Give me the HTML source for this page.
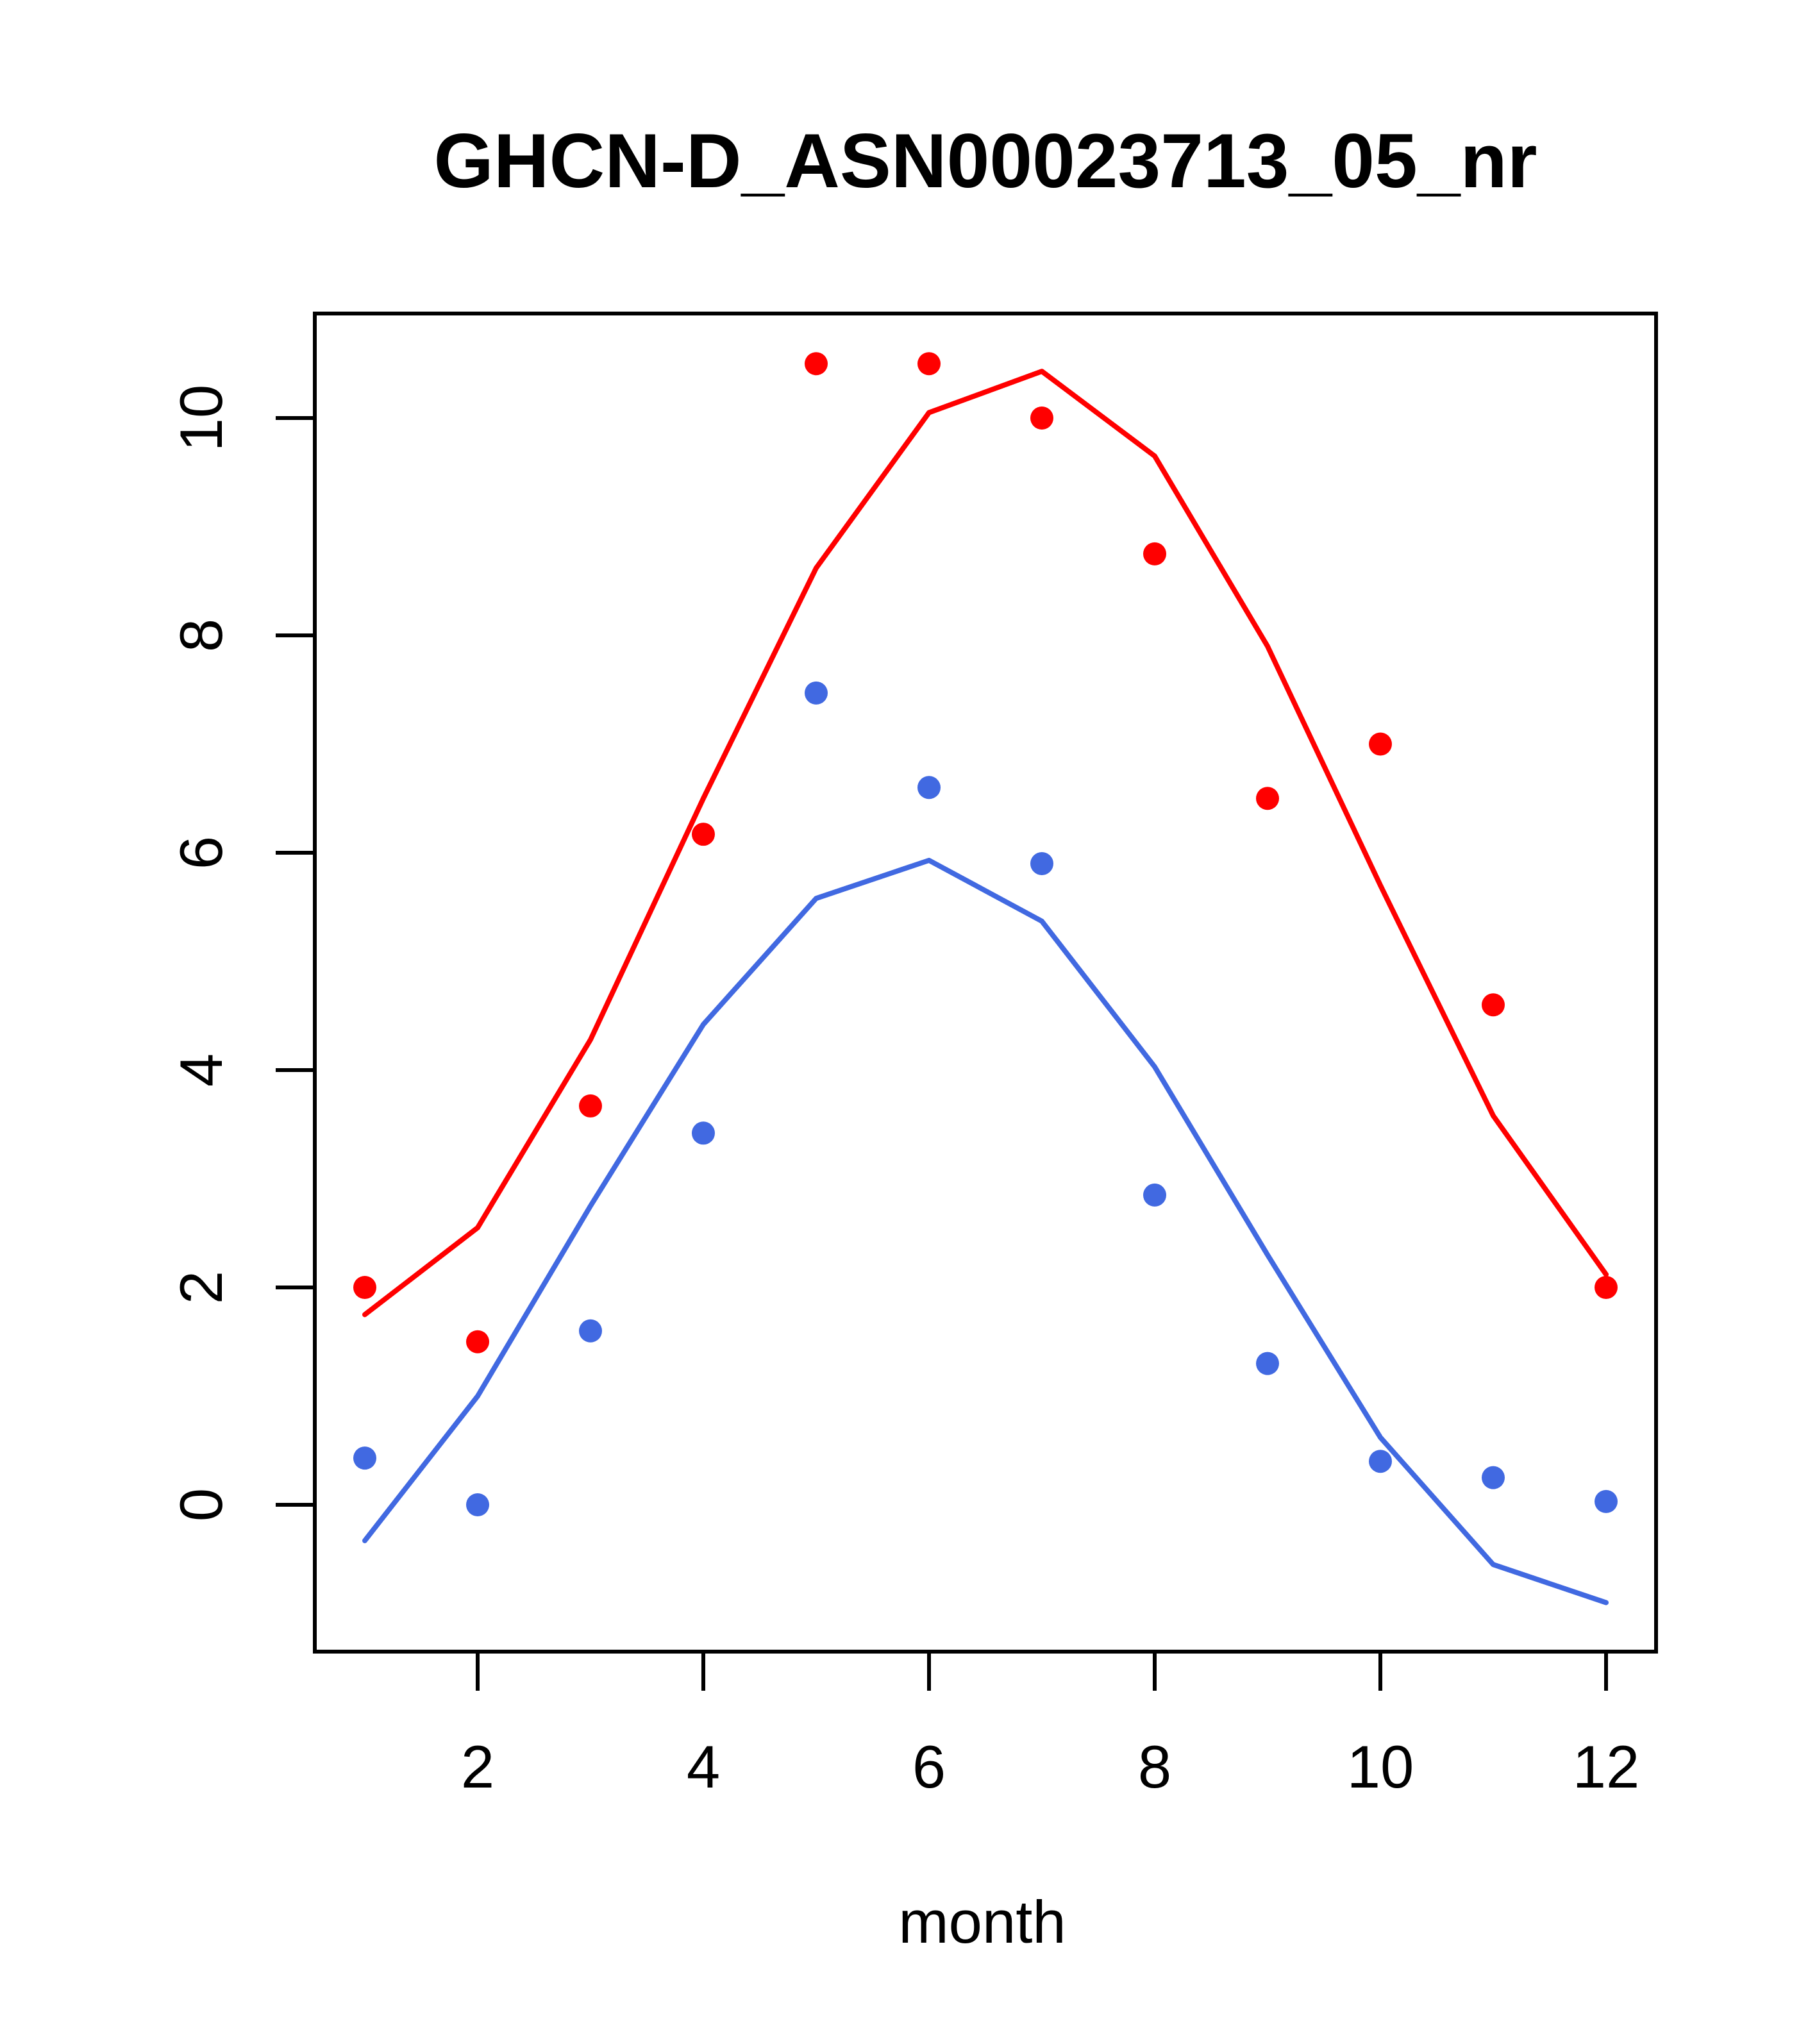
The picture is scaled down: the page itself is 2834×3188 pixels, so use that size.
<!DOCTYPE html>
<html><head><meta charset="utf-8"><style>html,body{margin:0;padding:0;background:#fff}svg{display:block}</style></head>
<body>
<svg width="2834" height="3188" viewBox="0 0 2834 3188" xmlns="http://www.w3.org/2000/svg" font-family="Liberation Sans, sans-serif">
<text x="1537" y="292" font-size="120" font-weight="bold" text-anchor="middle">GHCN-D_ASN00023713_05_nr</text>
<rect x="491" y="489" width="2092" height="2087" fill="none" stroke="#000" stroke-width="6"/>
<g id="axes"></g>
<g id="marks"></g>
<text x="1532" y="3030" font-size="94" text-anchor="middle">month</text>
<script>
const months=[1,2,3,4,5,6,7,8,9,10,11,12];
const redPoints=[2,1.5,3.67,6.17,10.5,10.5,10,8.75,6.5,7,4.6,2];
const redLine=[1.75,2.55,4.28,6.5,8.62,10.05,10.43,9.65,7.9,5.7,3.58,2.12];
const bluePoints=[0.43,0,1.6,3.42,7.47,6.6,5.9,2.85,1.3,0.4,0.25,0.03];
const blueLine=[-0.33,1.0,2.75,4.42,5.58,5.93,5.37,4.03,2.3,0.62,-0.55,-0.9];
const xTicks=[2,4,6,8,10,12];
const yTicks=[0,2,4,6,8,10];
const NS='http://www.w3.org/2000/svg';
function X(m){return 745+(m-2)*176;}
function Y(v){return 2347-v*169.5;}
const axes=document.getElementById('axes'),marks=document.getElementById('marks');
function mk(tag,attrs,parent){const e=document.createElementNS(NS,tag);for(const k in attrs)e.setAttribute(k,attrs[k]);parent.appendChild(e);return e;}
xTicks.forEach(t=>{
 const l=mk('line',{x1:X(t),x2:X(t),y1:2576,y2:2637,stroke:'#000','stroke-width':6},axes);
 
 
 const tx=mk('text',{x:X(t),y:2788,'font-size':94,'text-anchor':'middle'},axes);tx.textContent=t;
 
 
});
yTicks.forEach(t=>{
 const l=mk('line',{x1:430,x2:491,y1:Y(t),y2:Y(t),stroke:'#000','stroke-width':6},axes);
 
 
 const tx=mk('text',{x:346,y:Y(t),'font-size':94,'text-anchor':'middle',transform:`rotate(-90 346 ${Y(t)})`},axes);tx.textContent=t;
 
 
});
function line(vals,color,name){
 const p=mk('polyline',{points:vals.map((v,i)=>X(months[i])+','+Y(v)).join(' '),fill:'none',stroke:color,'stroke-width':8,'stroke-linecap':'round','stroke-linejoin':'round'},marks);
 
 
}
function pts(vals,color,name){
 vals.forEach((v,i)=>{const c=mk('circle',{cx:X(months[i]),cy:Y(v),r:18,fill:color},marks);
 
 });
}
line(redLine,'#ff0000','red-fit-line');
line(blueLine,'#4169e1','blue-fit-line');
pts(redPoints,'#ff0000','red-point');
pts(bluePoints,'#4169e1','blue-point');
</script>
</svg>
</body></html>
